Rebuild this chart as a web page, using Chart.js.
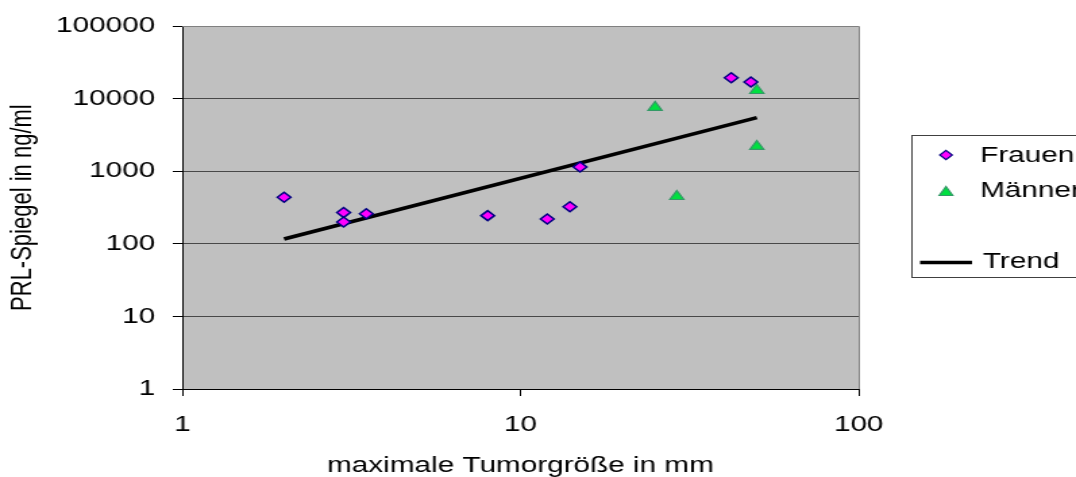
<!DOCTYPE html>
<html>
<head>
<meta charset="utf-8">
<script src="https://cdn.jsdelivr.net/npm/chart.js@4.4.0/dist/chart.umd.min.js"></script>
<style>
  html, body { margin: 0; padding: 0; background: #fff; overflow: hidden; }
  /* the reference is stretched sideways, so the canvas is too */
  #chart { display: block; transform: scaleX(1.35006); transform-origin: 0 0; }
</style>
</head>
<body>
<canvas id="chart" width="797" height="477"></canvas>
<script>
// max. tumour size (mm) and PRL level (ng/ml)
const frauenSize = [2, 3, 3, 3.5, 8, 12, 14, 15, 42, 48];
const frauenPrl = [440, 270, 200, 260, 245, 220, 325, 1150, 19500, 17000];
const maennerSize = [25, 29, 50, 50];
const maennerPrl = [7600, 450, 13000, 2200];
const trendSize = [2, 50];
const trendPrl = [117, 5500];

const xTicks = [1, 10, 100];
const yTicks = [1, 10, 100, 1000, 10000, 100000];
const seriesNames = ['Frauen', 'Männer', 'Trend'];

const FONT = "'Liberation Sans', Arial, sans-serif";
const PINK = '#ff00ff', NAVY = '#000080';
const GREEN = '#00e040', DKGREEN = '#339966';

const toPoints = (xs, ys) => xs.map((x, i) => ({ x: x, y: ys[i] }));

function diamond(ctx, x, y, rx, ry) {
  ctx.beginPath();
  ctx.moveTo(x, y - ry);
  ctx.lineTo(x + rx, y);
  ctx.lineTo(x, y + ry);
  ctx.lineTo(x - rx, y);
  ctx.closePath();
}

function triangle(ctx, x, y, w, h) {
  ctx.beginPath();
  ctx.moveTo(x, y - h / 2);
  ctx.lineTo(x + w / 2, y + h / 2);
  ctx.lineTo(x - w / 2, y + h / 2);
  ctx.closePath();
}

const plotFrame = {
  id: 'plotFrame',
  beforeDraw(chart) {
    const { ctx, chartArea: a } = chart;
    ctx.save();
    ctx.fillStyle = '#fff';
    ctx.fillRect(0, 0, chart.width, chart.height);
    ctx.fillStyle = '#c0c0c0';
    ctx.fillRect(a.left, a.top, a.right - a.left, a.bottom - a.top);
    ctx.restore();
  },
  afterDraw(chart) {
    const { ctx, chartArea: a } = chart;
    ctx.save();
    // grey frame on top and right of the plot
    ctx.strokeStyle = '#808080';
    ctx.lineWidth = 1;
    ctx.beginPath();
    ctx.moveTo(a.left, Math.round(a.top) + 0.5);
    ctx.lineTo(Math.round(a.right) + 0.5, Math.round(a.top) + 0.5);
    ctx.lineTo(Math.round(a.right) + 0.5, a.bottom);
    ctx.stroke();

    // legend box (runs off the right edge like the original)
    ctx.fillStyle = '#fff';
    ctx.fillRect(675, 135, 140, 143);
    ctx.strokeStyle = '#404040';
    ctx.strokeRect(675.5, 135.5, 140, 142);

    ctx.lineWidth = 1.2;
    diamond(ctx, 700.7, 155, 4.6, 4.6);
    ctx.fillStyle = PINK; ctx.fill();
    ctx.strokeStyle = NAVY; ctx.stroke();

    triangle(ctx, 700.7, 191, 10, 9);
    ctx.fillStyle = GREEN; ctx.fill();
    ctx.strokeStyle = DKGREEN; ctx.stroke();

    ctx.lineWidth = 3.5;
    ctx.strokeStyle = '#000';
    ctx.beginPath();
    ctx.moveTo(681.5, 262.5);
    ctx.lineTo(720, 262.5);
    ctx.stroke();

    ctx.fillStyle = '#000';
    ctx.font = '22px ' + FONT;
    ctx.textBaseline = 'middle';
    ctx.textAlign = 'left';
    ctx.fillText(seriesNames[0], 726, 156);
    ctx.fillText(seriesNames[1], 726, 191);
    ctx.fillText(seriesNames[2], 728, 262);
    ctx.restore();
  }
};

new Chart(document.getElementById('chart'), {
  type: 'scatter',
  plugins: [plotFrame],
  data: {
    datasets: [
      {
        label: seriesNames[0],
        data: toPoints(frauenSize, frauenPrl),
        pointStyle: 'rectRot',
        pointRadius: 5,
        pointBackgroundColor: PINK,
        pointBorderColor: NAVY,
        pointBorderWidth: 1.5,
        order: 1
      },
      {
        label: seriesNames[1],
        data: toPoints(maennerSize, maennerPrl),
        pointStyle: 'triangle',
        pointRadius: 6,
        pointBackgroundColor: GREEN,
        pointBorderColor: DKGREEN,
        pointBorderWidth: 1.2,
        order: 2
      },
      {
        type: 'line',
        label: seriesNames[2],
        data: toPoints(trendSize, trendPrl),
        borderColor: '#000',
        borderWidth: 3.6,
        pointRadius: 0,
        fill: false,
        order: 3
      }
    ]
  },
  options: {
    responsive: false,
    animation: false,
    devicePixelRatio: 1,
    layout: { padding: { left: 0, top: 22, right: 161, bottom: 0 } },
    plugins: {
      legend: { display: false },
      tooltip: { enabled: false }
    },
    scales: {
      x: {
        type: 'logarithmic',
        min: 1,
        max: 100,
        afterBuildTicks: (s) => { s.ticks = xTicks.map(v => ({ value: v })); },
        afterFit: (s) => { s.height = 88; },
        ticks: {
          color: '#000',
          font: { family: FONT, size: 22 },
          padding: 16,
          maxRotation: 0,
          callback: (v) => String(v)
        },
        grid: { drawOnChartArea: false, drawTicks: true, tickLength: 7, color: '#000' },
        border: { color: '#000', width: 1 },
        title: {
          display: true,
          text: 'maximale Tumorgröße in mm',
          color: '#000',
          font: { family: FONT, size: 22 },
          padding: { top: 0, bottom: -2 }
        }
      },
      y: {
        type: 'logarithmic',
        min: 1,
        max: 100000,
        afterBuildTicks: (s) => { s.ticks = yTicks.map(v => ({ value: v })); },
        afterFit: (s) => { s.width = 135; },
        ticks: {
          color: '#000',
          font: { family: FONT, size: 22 },
          padding: 13,
          callback: (v) => String(v)
        },
        grid: {
          color: (c) => (c.tick && c.tick.value === 100000 ? '#808080' : '#484848'),
          tickColor: '#000',
          tickLength: 7
        },
        border: { color: '#000', width: 1 },
        title: {
          display: true,
          text: 'PRL-Spiegel in ng/ml',
          color: '#000',
          font: { family: FONT, size: 22 },
          padding: { top: 4, bottom: 0 }
        }
      }
    }
  }
});
</script>
</body>
</html>
